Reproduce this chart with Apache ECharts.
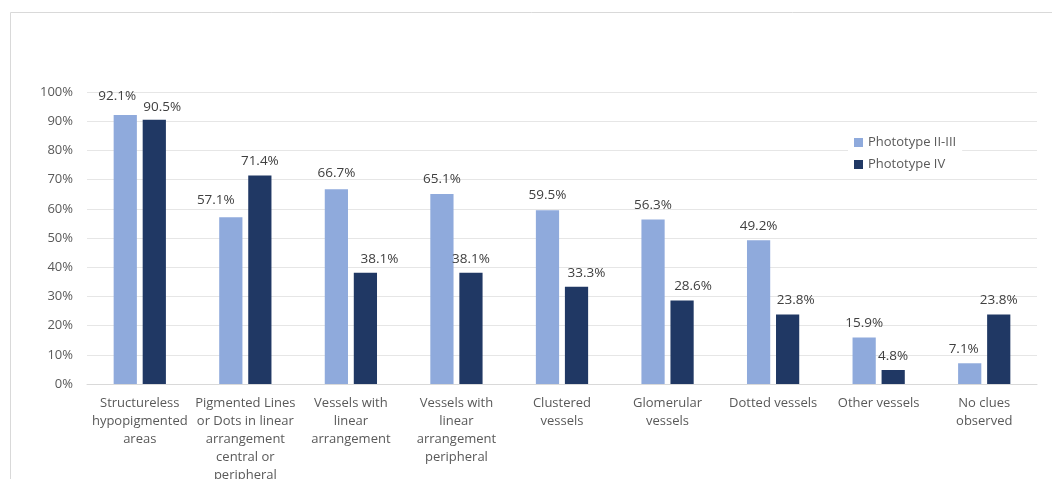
<!DOCTYPE html>
<html><head><meta charset="utf-8">
<script src="https://cdn.jsdelivr.net/npm/echarts@6/dist/echarts.min.js"></script>
<style>html,body{margin:0;padding:0;background:#fff}#c{width:1052px;height:479px}</style>
</head><body><div id="c"></div>
<script>
const categories = [
  "Structureless\nhypopigmented\nareas",
  "Pigmented Lines\nor Dots in linear\narrangement\ncentral or\nperipheral",
  "Vessels with\nlinear\narrangement",
  "Vessels with\nlinear\narrangement\nperipheral",
  "Clustered\nvessels",
  "Glomerular\nvessels",
  "Dotted vessels",
  "Other vessels",
  "No clues\nobserved"
];
const seriesNames = ["Phototype II-III", "Phototype IV"];
const phototypeII_III = [92.1, 57.1, 66.7, 65.1, 59.5, 56.3, 49.2, 15.9, 7.1];
const phototypeIV = [90.5, 71.4, 38.1, 38.1, 33.3, 28.6, 23.8, 4.8, 23.8];
const colors = ["#8faadc", "#203864"];
const font = "'Open Sans', 'Noto Sans', sans-serif";

// label nudges (styling only), as in the source chart's label placement
const labelNudge1 = [[-8, -5], [-15, -3], [0, -2], [0, -1], [0, -1], [0, 0], [0, 0], [0, 0], [-6, 0]];
const labelNudge2 = [[8, 1], [0, 0], [14, 0], [0, 0], [10, 0], [11, 0], [8, 0], [0, 0], [0, 0]];

const chart = echarts.init(document.getElementById('c'));
const labelOpt = {
  show: true, position: 'top', distance: 7,
  formatter: p => p.value.toFixed(1) + '%',
  color: '#404040', fontSize: 13.5, fontFamily: font
};
function withNudge(arr, nudges) {
  return arr.map((v, i) => ({ value: v, label: { offset: nudges[i] } }));
}
chart.setOption({
  animation: false,
  graphic: [{
    type: 'rect', left: 8, top: 10, silent: true, z: -10,
    shape: { width: 1100, height: 520 },
    style: { fill: 'none', stroke: '#d9d9d9', lineWidth: 1 }
  }],
  grid: { left: 87, right: 15, top: 92, bottom: 95, outerBoundsMode: 'none', containLabel: false },
  legend: {
    orient: 'vertical', left: 848, top: 134, itemWidth: 9, itemHeight: 9, itemGap: 9,
    icon: 'rect', backgroundColor: '#fff', padding: [2, 6, 2, 6],
    textStyle: { color: '#595959', fontSize: 13, fontFamily: font },
    data: seriesNames
  },
  xAxis: {
    type: 'category', data: categories,
    axisLine: { lineStyle: { color: '#d9d9d9' } },
    axisTick: { show: false },
    axisLabel: { interval: 0, color: '#595959', fontSize: 13, fontFamily: font, lineHeight: 18, margin: 10 }
  },
  yAxis: {
    type: 'value', min: 0, max: 100, interval: 10,
    axisLabel: { formatter: '{value}%', color: '#595959', fontSize: 13, fontFamily: font, margin: 14 },
    splitLine: { lineStyle: { color: '#e6e6e6' } },
    axisLine: { show: false }, axisTick: { show: false }
  },
  series: [
    { name: seriesNames[0], type: 'bar', data: withNudge(phototypeII_III, labelNudge1), itemStyle: { color: colors[0] },
      barWidth: '22%', barGap: '25%', label: labelOpt },
    { name: seriesNames[1], type: 'bar', data: withNudge(phototypeIV, labelNudge2), itemStyle: { color: colors[1] },
      barWidth: '22%', barGap: '25%', label: labelOpt }
  ]
});
</script></body></html>
